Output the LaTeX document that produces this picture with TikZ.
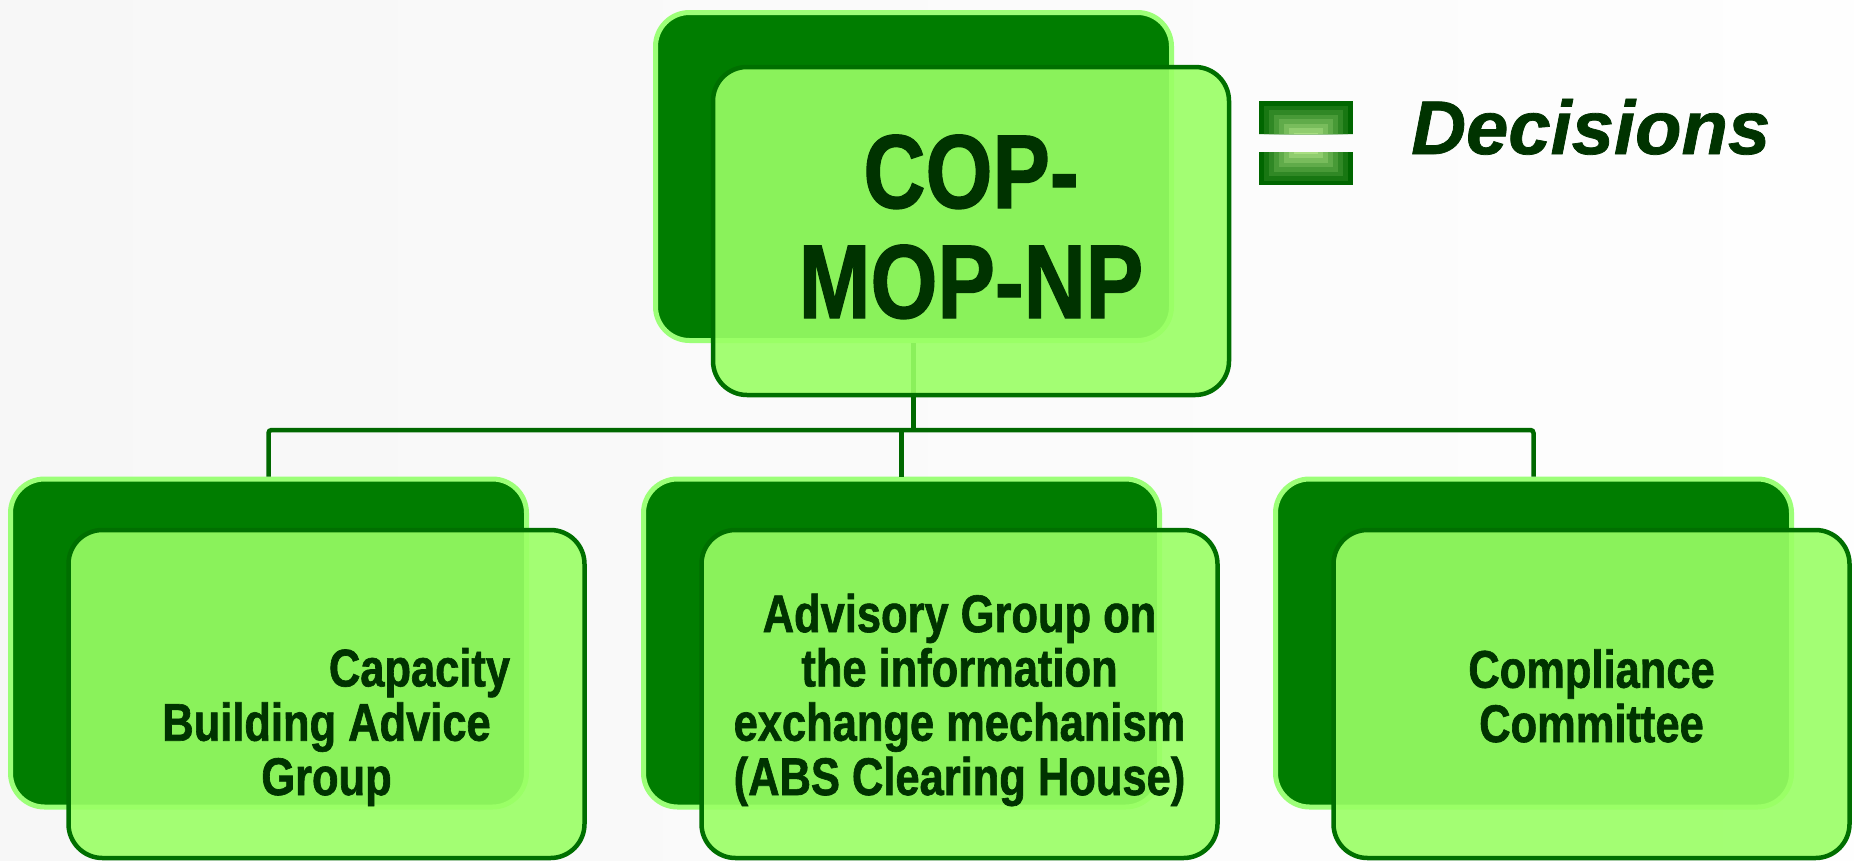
\documentclass[tikz,border=0pt]{standalone}
\usepackage{fontspec}
\newfontfamily\narrowfont[FakeStretch=0.82,FakeBold=1.2]{Liberation Sans}
\newfontfamily\plainsans[FakeBold=1]{Liberation Sans}
\definecolor{bgl}{HTML}{F7F7F7}
\definecolor{bgr}{HTML}{FEFEFE}
\definecolor{backfill}{HTML}{007D00}
\definecolor{backline}{HTML}{9CFF78}
\definecolor{frontfill}{HTML}{9AFF65}
\definecolor{frontline}{HTML}{006F00}
\definecolor{txt}{HTML}{003300}
\definecolor{connc}{HTML}{006800}
\definecolor{eqdark}{HTML}{006600}
\definecolor{eqlight}{HTML}{C8F59A}
\begin{document}
\begin{tikzpicture}[x=1pt,y=-1pt,
  backbox/.style={rectangle, draw=backline, line width=5pt, fill=backfill,
    rounded corners=34pt, minimum width=516pt, minimum height=328pt, inner sep=0pt},
  frontbox/.style={rectangle, draw=frontline, line width=4.5pt, fill=frontfill,
    fill opacity=0.9, rounded corners=34pt, minimum width=516pt, minimum height=328pt, inner sep=0pt},
  connector/.style={draw=connc, line width=4.5pt, rounded corners=3pt},
  boxtext/.style={text=txt, font=\narrowfont\bfseries\fontsize{53}{54.3}\selectfont,
    align=center, inner sep=0pt, anchor=base},
  toptext/.style={text=txt, font=\narrowfont\bfseries\fontsize{105}{110}\selectfont,
    align=center, inner sep=0pt, anchor=base},
  ]
\shade[left color=bgl, right color=bgr] (0,0) rectangle (1854,860);
\useasboundingbox (0,0) rectangle (1854,860);

% back boxes
\node[backbox] (topback) at (913.5,176.5) {};
\node[backbox] (leftback) at (268.5,643) {};
\node[backbox] (midback) at (901.5,643) {};
\node[backbox] (rightback) at (1533.5,643) {};

% connectors
\coordinate (hub) at (913.5,430);
\draw[connector] (topback.south) -- (hub);
\draw[connector] (leftback.north) |- (rightback.north |- hub) -- (rightback.north);
\draw[connector] (midback.north) -- (midback.north |- hub);

% front boxes
\node[frontbox] (topfront) at (971,231) {};
\node[frontbox] (leftfront) at (326.5,694) {};
\node[frontbox] (midfront) at (959.5,694) {};
\node[frontbox] (rightfront) at (1591.5,694) {};

% texts (base anchor = baseline of the last line)
\node[toptext] (toplabel) at (971,318) {COP-\\MOP-NP};
\node[boxtext] (leftlabel) at (326.5,795) {\hspace*{186pt}Capacity\\Building Advice\\Group};
\node[boxtext] (midlabel) at (959.5,795) {Advisory Group on\\the information\\exchange mechanism\\(ABS Clearing House)};
\node[boxtext] (rightlabel) at (1591.5,742) {Compliance\\Committee};

% equal sign
\begin{scope}
\clip (1259,101) rectangle (1353,134) (1259,152) rectangle (1353,185);
\foreach \i in {0,...,8} {
  \pgfmathsetmacro\p{100-\i*12}
  \fill[eqdark!\p!eqlight] (1259+5*\i,101+4.5*\i) rectangle (1353-5*\i,185-4.5*\i);
}
\end{scope}

\node[anchor=base west, text=txt, inner sep=0pt,
  font=\plainsans\bfseries\itshape\fontsize{76}{80}\selectfont] (decisions) at (1411,154) {Decisions};
\end{tikzpicture}
\end{document}
